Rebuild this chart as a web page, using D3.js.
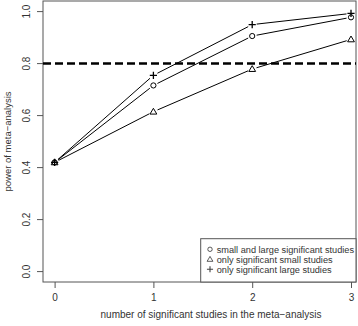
<!DOCTYPE html>
<html>
<head>
<meta charset="utf-8">
<script src="https://cdn.jsdelivr.net/npm/d3@7"></script>
<style>
  body { margin: 0; background: #fff; }
  text { font-family: "Liberation Sans", Arial, sans-serif; fill: #333; }
</style>
</head>
<body>
<div id="chart"></div>
<script>
(function() {
    const width = 358
    const height = 326

    // data
    const studies = [0, 1, 2, 3]
    const bothSig = [0.42, 0.716, 0.906, 0.978]
    const smallSig = [0.42, 0.615, 0.779, 0.893]
    const largeSig = [0.42, 0.755, 0.95, 0.993]
    const powerLine = 0.8
    const xTicks = [0, 1, 2, 3]
    const yTicks = [0, 0.2, 0.4, 0.6, 0.8, 1.0]
    const legendLabels = ["small and large significant studies", "only significant small studies", "only significant large studies"]

    const box = {left: 43, right: 356, top: 1, bottom: 282}

    const svg = d3.select("#chart")
        .append("svg")
        .attr("width", width)
        .attr("height", height)

    const x = d3.scaleLinear().domain([0, 3]).range([54.6, 351])
    const y = d3.scaleLinear().domain([0, 1]).range([271.6, 11.6])

    // axes
    const xAxis = svg.append("g")
        .attr("transform", `translate(0,${box.bottom})`)
        .call(d3.axisBottom(x).tickValues(xTicks).tickFormat(d3.format("d")).tickSize(6).tickPadding(6))
    xAxis.select(".domain").remove()
    xAxis.selectAll("line").attr("stroke", "#555")
    xAxis.selectAll("text").style("font-size", "10px").attr("fill", "#333")

    const yAxis = svg.append("g")
        .attr("transform", `translate(${box.left},0)`)
        .call(d3.axisLeft(y).tickValues(yTicks).tickFormat(d3.format(".1f")).tickSize(6))
    yAxis.select(".domain").remove()
    yAxis.selectAll("line").attr("stroke", "#555")
    yAxis.selectAll("text")
        .style("font-size", "10px")
        .attr("fill", "#333")
        .attr("text-anchor", "middle")
        .attr("dy", "0")
        .attr("x", 0)
        .attr("transform", d => `translate(-13,${y(d)}) rotate(-90)`)
        .attr("y", 0)
    yAxis.selectAll(".tick").attr("transform", "translate(0,0)")
    yAxis.selectAll(".tick line").attr("y1", d => y(d)).attr("y2", d => y(d))

    // plot box
    svg.append("rect")
        .attr("x", box.left)
        .attr("y", box.top)
        .attr("width", box.right - box.left)
        .attr("height", box.bottom - box.top)
        .attr("fill", "none")
        .attr("stroke", "#555")
        .attr("stroke-width", 1)

    // dashed reference line
    svg.append("line")
        .attr("x1", box.left)
        .attr("x2", box.right)
        .attr("y1", y(powerLine))
        .attr("y2", y(powerLine))
        .attr("stroke", "#000")
        .attr("stroke-width", 2.5)
        .attr("stroke-dasharray", "8,4")

    // lines with gaps (type = "b")
    const gap = 4.5
    function drawSeries(vals) {
        const pts = studies.map((s, i) => [x(s), y(vals[i])])
        for (let i = 0; i < pts.length - 1; i++) {
            const [x1, y1] = pts[i], [x2, y2] = pts[i + 1]
            const len = Math.hypot(x2 - x1, y2 - y1)
            const ux = (x2 - x1) / len, uy = (y2 - y1) / len
            svg.append("line")
                .attr("x1", x1 + ux * gap).attr("y1", y1 + uy * gap)
                .attr("x2", x2 - ux * gap).attr("y2", y2 - uy * gap)
                .attr("stroke", "#000")
                .attr("stroke-width", 1)
        }
        return pts
    }

    function circle(g, cx, cy) {
        g.append("circle").attr("cx", cx).attr("cy", cy).attr("r", 2.6)
            .attr("fill", "none").attr("stroke", "#000").attr("stroke-width", 1)
    }
    function triangle(g, cx, cy) {
        const s = 3.4
        g.append("path")
            .attr("d", `M${cx},${cy - s} L${cx + s},${cy + s * 0.7} L${cx - s},${cy + s * 0.7} Z`)
            .attr("fill", "none").attr("stroke", "#000").attr("stroke-width", 1)
    }
    function plus(g, cx, cy) {
        const s = 3.6
        g.append("path")
            .attr("d", `M${cx - s},${cy} L${cx + s},${cy} M${cx},${cy - s} L${cx},${cy + s}`)
            .attr("fill", "none").attr("stroke", "#000").attr("stroke-width", 1.3)
    }

    const series = [
        {vals: bothSig, sym: circle},
        {vals: smallSig, sym: triangle},
        {vals: largeSig, sym: plus}
    ]
    series.forEach(s => {
        const pts = drawSeries(s.vals)
        pts.forEach(p => s.sym(svg, p[0], p[1]))
    })

    // axis titles
    svg.append("text")
        .attr("x", 211)
        .attr("y", 318)
        .attr("text-anchor", "middle")
        .style("font-size", "10px")
        .text("number of significant studies in the meta\u2212analysis")

    svg.append("text")
        .attr("transform", `translate(11,${(box.top + box.bottom) / 2}) rotate(-90)`)
        .attr("text-anchor", "middle")
        .style("font-size", "9.5px")
        .text("power of meta\u2212analysis")

    // legend
    const lg = svg.append("g")
    lg.append("rect")
        .attr("x", 200.7)
        .attr("y", 238.7)
        .attr("width", box.right - 200.7)
        .attr("height", box.bottom - 238.7)
        .attr("fill", "#fff")
        .attr("stroke", "#555")
    const syms = [circle, triangle, plus]
    legendLabels.forEach((lab, i) => {
        const ly = 249.3 + i * 10
        const g = lg.append("g").attr("opacity", 0.75)
            .attr("transform", `translate(210,${ly}) scale(0.85) translate(-210,${-ly})`)
        syms[i](g, 210, ly)
        lg.append("text")
            .attr("x", 216.7)
            .attr("y", ly)
            .attr("dy", "0.35em")
            .style("font-size", "9.2px")
            .text(lab)
    })
})();
</script>
</body>
</html>
